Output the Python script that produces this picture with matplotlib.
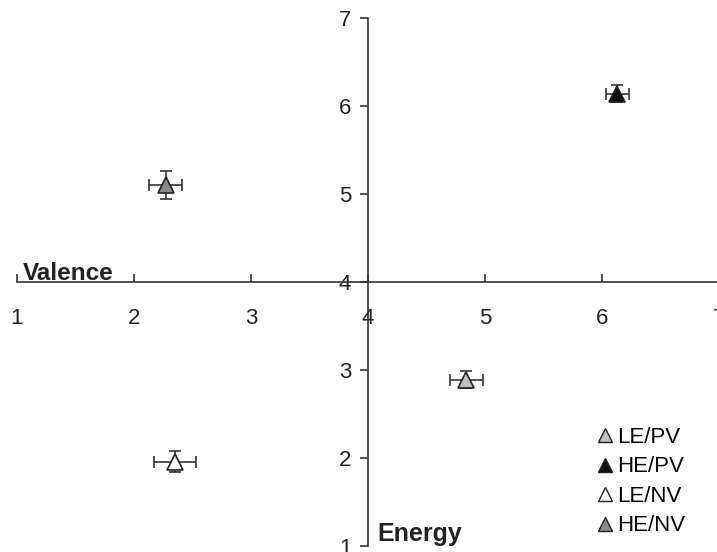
import matplotlib.pyplot as plt
from matplotlib.lines import Line2D

plt.rcParams['font.family'] = ['Liberation Sans', 'DejaVu Sans']

# group means on the two scales, with error bars
groups = ['LE/PV', 'HE/PV', 'LE/NV', 'HE/NV']
valence = [4.84, 6.13, 2.35, 2.27]
energy = [2.89, 6.14, 1.96, 5.10]
valence_err = [0.14, 0.10, 0.18, 0.14]
energy_err = [0.10, 0.10, 0.12, 0.16]
colors = ['#c0c0c0', '#111111', '#ffffff', '#8a8a8a']
ticks = [1, 2, 3, 4, 5, 6, 7]

fig = plt.figure(figsize=(7.17, 5.52), dpi=100)
ax = fig.add_axes([17 / 717, 6 / 552, 702 / 717, 528 / 552])

handles = []
for i in range(len(groups)):
    ax.errorbar(valence[i], energy[i], xerr=valence_err[i], yerr=energy_err[i],
                fmt='^', ms=11, mfc=colors[i], mec='#222222', mew=1.2,
                ecolor='#333333', elinewidth=1.2, capsize=4, capthick=1.2)
    handles.append(Line2D([], [], ls='none', marker='^', ms=10, mfc=colors[i],
                          mec='#222222', mew=1.0, label=groups[i]))

ax.set_xlim(1, 7)
ax.set_ylim(1, 7)
ax.spines['left'].set_position(('data', 4))
ax.spines['bottom'].set_position(('data', 4))
ax.spines['right'].set_visible(False)
ax.spines['top'].set_visible(False)
for s in ['left', 'bottom']:
    ax.spines[s].set_color('#333333')
    ax.spines[s].set_linewidth(1.2)

ax.set_xticks(ticks)
ax.set_yticks(ticks)
ax.tick_params(axis='x', direction='in', length=6, width=1.2, color='#333333',
               pad=19, labelsize=16, labelcolor='#222222')
ax.tick_params(axis='y', direction='out', length=6, width=1.2, color='#333333',
               pad=6, labelsize=16, labelcolor='#222222')

ax.text(1.05, 4.02, 'Valence', fontsize=17.5, fontweight='bold', color='#222222',
        ha='left', va='baseline')
ax.text(4.08, 1.14, 'Energy', fontsize=18, fontweight='bold', color='#222222',
        ha='left', va='center')

ax.legend(handles=handles, loc='upper left', bbox_to_anchor=(597 / 717, 1 - 427 / 552),
          bbox_transform=fig.transFigure, borderpad=0, borderaxespad=0,
          frameon=False, fontsize=16, handlelength=0.7, handletextpad=0.2,
          labelspacing=0.38)

plt.savefig('out.png', dpi=100)
